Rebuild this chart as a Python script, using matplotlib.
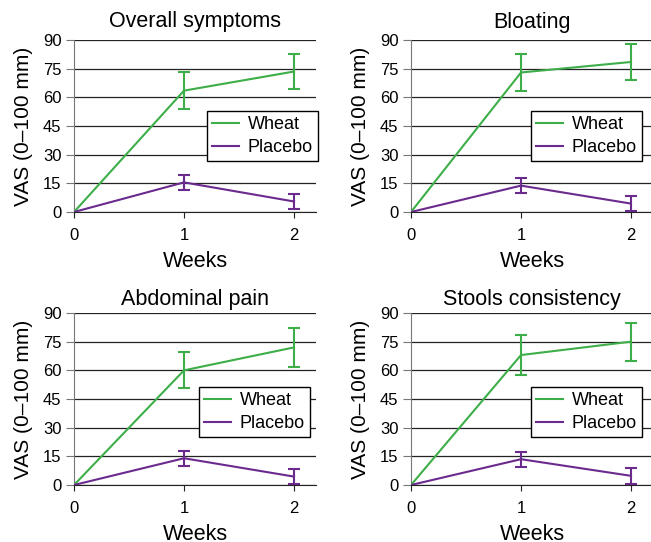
import numpy as np
import matplotlib
matplotlib.use("Agg")
import matplotlib.pyplot as plt
from matplotlib.lines import Line2D

plt.rcParams['font.family'] = ['Liberation Sans', 'DejaVu Sans']

# data (VAS, mean and error at weeks 0/1/2)
weeks = [0, 1, 2]
titles = ["Overall symptoms", "Bloating", "Abdominal pain", "Stools consistency"]
wheat_mean = [[0, 63.5, 73.5], [0, 73.0, 78.5], [0, 60.0, 72.0], [0, 68.0, 75.0]]
wheat_err = [[0, 9.5, 9.3], [0, 9.5, 9.5], [0, 9.5, 10.0], [0, 10.3, 10.0]]
placebo_mean = [[0, 15.5, 5.5], [0, 13.8, 4.4], [0, 14.0, 4.4], [0, 13.5, 4.8]]
placebo_err = [[0, 3.8, 4.0], [0, 4.0, 4.0], [0, 4.0, 4.0], [0, 4.0, 4.3]]
yticks = [0, 15, 30, 45, 60, 75, 90]

green = '#3dae48'
purple = '#6a2a8e'

W, H = 651, 542
fig = plt.figure(figsize=(W / 100, H / 100), dpi=100)

# panel boxes in pixels: left, top, right, bottom ; legend anchor (right, top)
boxes = [(74, 40, 316, 212), (411, 40, 653, 212),
         (74, 313, 316, 485), (411, 313, 653, 485)]
leg_anchor = [(318, 111), (642, 111), (310, 387), (642, 387)]
title_pad = [9, 8.5, 6, 6]

for i, (l, t, r, b) in enumerate(boxes):
    ax = fig.add_axes([l / W, 1 - b / H, (r - l) / W, (b - t) / H])
    ax.errorbar(weeks, wheat_mean[i], yerr=wheat_err[i], errorevery=(1, 1),
                color=green, lw=1.5, capsize=4.5, capthick=1.5, zorder=3)
    ax.errorbar(weeks, placebo_mean[i], yerr=placebo_err[i], errorevery=(1, 1),
                color=purple, lw=1.5, capsize=4.5, capthick=1.5, zorder=3)
    ax.set_xlim(0, 2.2)
    ax.set_ylim(0, 90)
    ax.set_xticks(weeks)
    ax.set_yticks(yticks)
    ax.yaxis.grid(True, color='#222222', lw=0.9)
    ax.set_axisbelow(True)
    for s in ['top', 'right']:
        ax.spines[s].set_visible(False)
    ax.spines['left'].set_color('#777777')
    ax.spines['bottom'].set_color('#222222')
    ax.tick_params(axis='y', length=5.5, color='#777777', labelsize=12, pad=3.5)
    ax.tick_params(axis='x', length=4.5, color='#222222', labelsize=12, pad=7)
    ax.set_title(titles[i], fontsize=15.5, pad=title_pad[i])
    ax.set_xlabel('Weeks', fontsize=15.5)
    ax.set_ylabel('VAS (0\u2013100 mm)', fontsize=15)
    ax.xaxis.set_label_coords(0.5, -39 / (b - t))
    ax.yaxis.set_label_coords((33 - 74) / (r - l), 0.5)
    handles = [Line2D([], [], color=green, lw=1.5), Line2D([], [], color=purple, lw=1.5)]
    lx, ly = leg_anchor[i]
    leg = ax.legend(handles, ['Wheat', 'Placebo'], loc='upper right',
                    bbox_to_anchor=(lx / W, 1 - ly / H),
                    bbox_transform=fig.transFigure, borderaxespad=0,
                    fontsize=13, frameon=True, fancybox=False, framealpha=1,
                    edgecolor='black', handlelength=1.5, borderpad=0.3,
                    labelspacing=0.3, handletextpad=0.45)
    leg.get_frame().set_linewidth(1.0)

fig.savefig('out.png', dpi=100)
